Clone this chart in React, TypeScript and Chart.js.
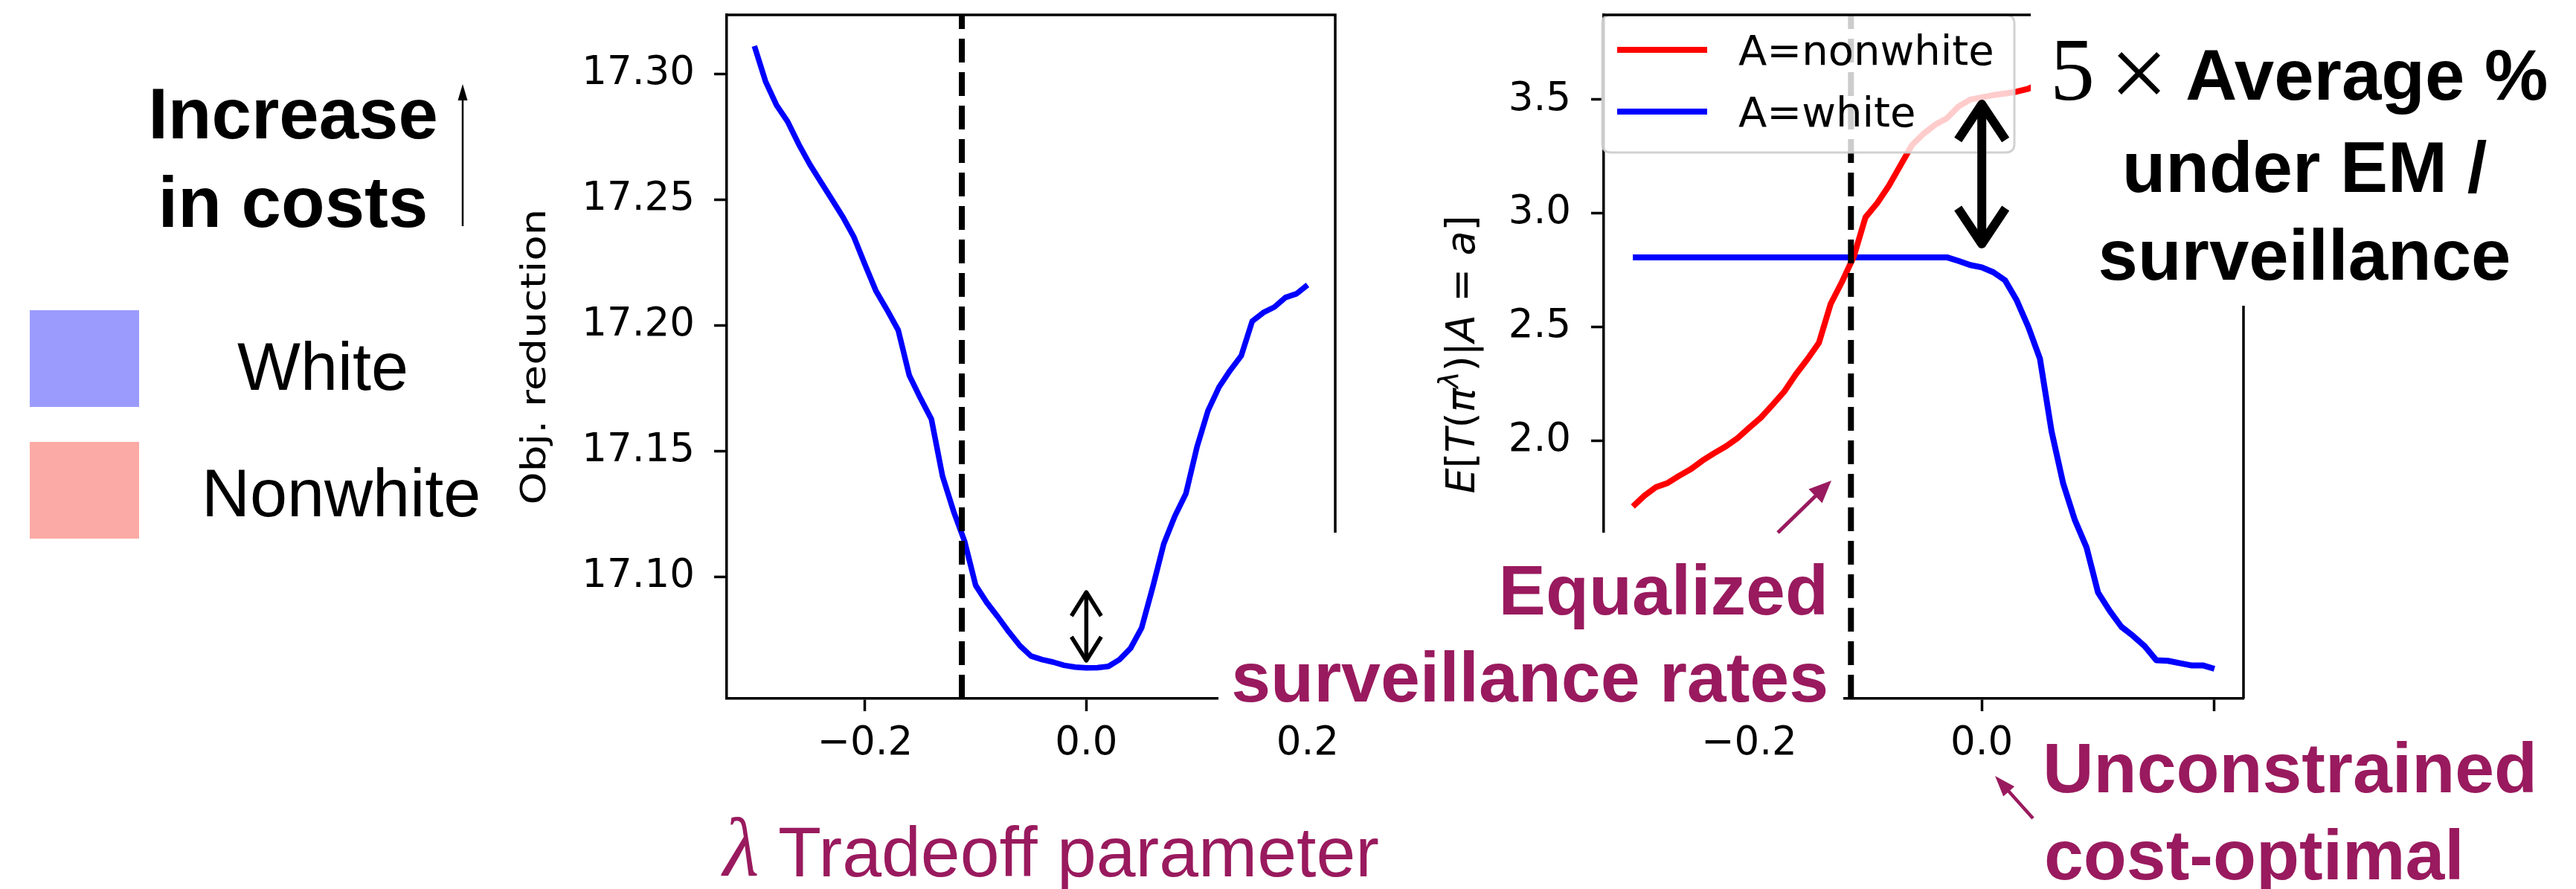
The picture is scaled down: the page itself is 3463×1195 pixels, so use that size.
import React, { useEffect, useRef } from 'react';
import { Chart, registerables } from 'chart.js';

Chart.register(...registerables);

// ---------------- data ----------------
const LAMBDA = [
  -0.30, -0.29, -0.28, -0.27, -0.26, -0.25, -0.24, -0.23, -0.22, -0.21,
  -0.20, -0.19, -0.18, -0.17, -0.16, -0.15, -0.14, -0.13, -0.12, -0.11,
  -0.10, -0.09, -0.08, -0.07, -0.06, -0.05, -0.04, -0.03, -0.02, -0.01,
  0.00, 0.01, 0.02, 0.03, 0.04, 0.05, 0.06, 0.07, 0.08, 0.09,
  0.10, 0.11, 0.12, 0.13, 0.14, 0.15, 0.16, 0.17, 0.18, 0.19, 0.20,
];

const OBJ_REDUCTION = [
  17.311, 17.297, 17.2875, 17.281, 17.272, 17.264, 17.257, 17.250, 17.243, 17.235,
  17.224, 17.2135, 17.206, 17.198, 17.180, 17.171, 17.1626, 17.140, 17.126, 17.114,
  17.0965, 17.0897, 17.084, 17.078, 17.0725, 17.0684, 17.067, 17.066, 17.0647, 17.064,
  17.0637, 17.0638, 17.0643, 17.067, 17.0715, 17.0796, 17.0957, 17.113, 17.124, 17.133,
  17.1515, 17.166, 17.1754, 17.182, 17.1878, 17.2016, 17.205, 17.2072, 17.211, 17.2125, 17.216,
];

const NONWHITE = [
  1.709, 1.757, 1.795, 1.813, 1.845, 1.874, 1.912, 1.944, 1.974, 2.01,
  2.056, 2.10, 2.156, 2.214, 2.29, 2.357, 2.43, 2.60, 2.70, 2.81,
  2.982, 3.044, 3.12, 3.21, 3.30, 3.35, 3.39, 3.418, 3.47, 3.50,
  3.51, 3.52, 3.527, 3.535, 3.548, 3.57, 3.59, 3.60, 3.62, 3.63,
  3.64, 3.65, 3.66, 3.67, 3.68, 3.69, 3.70, 3.71, 3.72, 3.73, 3.737,
];

const WHITE = [
  2.806, 2.806, 2.806, 2.806, 2.806, 2.806, 2.806, 2.806, 2.806, 2.806,
  2.806, 2.806, 2.806, 2.806, 2.806, 2.806, 2.806, 2.806, 2.806, 2.806,
  2.806, 2.806, 2.806, 2.806, 2.806, 2.806, 2.806, 2.806, 2.79, 2.772,
  2.762, 2.74, 2.705, 2.617, 2.50, 2.36, 2.04, 1.81, 1.65, 1.53,
  1.33, 1.25, 1.18, 1.14, 1.095, 1.033, 1.03, 1.02, 1.01, 1.01, 0.995,
];

const SERIES_LABELS = ['A=nonwhite', 'A=white'];
const EQUALIZED_LAMBDA = -0.1125;
const X_TICKS = [-0.2, 0.0, 0.2];
const X_RANGE = [-0.325, 0.225];
const OBJ_Y_TICKS = [17.10, 17.15, 17.20, 17.25, 17.30];
const OBJ_Y_RANGE = [17.0515, 17.3234];
const RATE_Y_TICKS = [1.0, 1.5, 2.0, 2.5, 3.0, 3.5];
const RATE_Y_RANGE = [0.864, 3.873];
const OBJ_GAP = [17.0938, 17.0666];
const RATE_GAP = [3.48, 2.865];
const OBJ_Y_TITLE = 'Obj. reduction';

// ---------------- styling ----------------
const PURPLE = '#991a5e';
const SANS = "'Liberation Sans', Arial, Helvetica, sans-serif";
const SERIF = "'Liberation Serif', 'Times New Roman', serif";
const DJ = "'DejaVu Sans', sans-serif";
const TICK_SIZE = 53;
const SPINE = 3.5;

const fmtX = (v: number) => {
  if (Math.abs(v) < 1e-9) return '0.0';
  return (v < 0 ? '\u2212' : '') + Math.abs(v).toFixed(1);
};

function scalesFor(yRange: number[], yTicks: number[], yWidth: number, yDec: number, yPad: number) {
  return {
    x: {
      type: 'linear',
      bounds: 'data',
      min: X_RANGE[0],
      max: X_RANGE[1],
      afterBuildTicks: (s: any) => { s.ticks = X_TICKS.map((v) => ({ value: v })); },
      afterFit: (s: any) => { s.height = 161; s.paddingLeft = 0; s.paddingRight = 0; },
      grid: { display: true, drawOnChartArea: false, drawTicks: true, tickLength: 17, tickWidth: SPINE, tickColor: '#000' },
      border: { display: true, color: '#000', width: SPINE },
      ticks: {
        color: '#000', font: { family: DJ, size: TICK_SIZE }, padding: 12,
        maxRotation: 0, minRotation: 0, autoSkip: false, includeBounds: false,
        callback: (v: any) => fmtX(Number(v)),
      },
    },
    y: {
      type: 'linear',
      bounds: 'data',
      min: yRange[0],
      max: yRange[1],
      afterBuildTicks: (s: any) => { s.ticks = yTicks.map((v) => ({ value: v })); },
      afterFit: (s: any) => { s.width = yWidth; s.paddingTop = 0; s.paddingBottom = 0; },
      grid: { display: true, drawOnChartArea: false, drawTicks: true, tickLength: 17, tickWidth: SPINE, tickColor: '#000' },
      border: { display: true, color: '#000', width: SPINE },
      ticks: {
        color: '#000', font: { family: DJ, size: TICK_SIZE }, padding: yPad,
        autoSkip: false, includeBounds: false,
        callback: (v: any) => Number(v).toFixed(yDec),
      },
    },
  };
}

const spinesPlugin = {
  id: 'spines',
  afterDraw(chart: any) {
    const { ctx, chartArea } = chart;
    const { left, right, top, bottom } = chartArea;
    ctx.save();
    ctx.strokeStyle = '#000';
    ctx.lineWidth = SPINE;
    ctx.beginPath();
    ctx.moveTo(left - SPINE / 2, top);
    ctx.lineTo(right + SPINE / 2, top);
    ctx.moveTo(right, top);
    ctx.lineTo(right, bottom);
    ctx.stroke();
    ctx.restore();
  },
};

function gapArrowPlugin(xVal: number, ys: number[], lw: number, hw: number, hl: number) {
  return {
    id: 'gapArrow',
    afterDraw(chart: any) {
      const { ctx } = chart;
      const x = chart.scales.x.getPixelForValue(xVal);
      const a = chart.scales.y.getPixelForValue(ys[0]);
      const b = chart.scales.y.getPixelForValue(ys[1]);
      ctx.save();
      ctx.strokeStyle = '#000';
      ctx.lineWidth = lw;
      ctx.lineCap = 'butt';
      ctx.lineJoin = 'round';
      ctx.beginPath();
      ctx.moveTo(x, a + 2);
      ctx.lineTo(x, b - 2);
      ctx.stroke();
      ctx.beginPath();
      ctx.moveTo(x - hw / 2, a + hl);
      ctx.lineTo(x, a);
      ctx.lineTo(x + hw / 2, a + hl);
      ctx.stroke();
      ctx.beginPath();
      ctx.moveTo(x - hw / 2, b - hl);
      ctx.lineTo(x, b);
      ctx.lineTo(x + hw / 2, b - hl);
      ctx.stroke();
      ctx.restore();
    },
  };
}

const objTitlePlugin = {
  id: 'objTitle',
  afterDraw(chart: any) {
    const { ctx, chartArea } = chart;
    ctx.save();
    ctx.font = `46px ${DJ}`;
    ctx.fillStyle = '#000';
    const w = ctx.measureText(OBJ_Y_TITLE).width;
    ctx.translate(chartArea.left - 256, (chartArea.top + chartArea.bottom) / 2);
    ctx.rotate(-Math.PI / 2);
    ctx.scale(398 / w, 1);
    ctx.textAlign = 'center';
    ctx.textBaseline = 'alphabetic';
    ctx.fillText(OBJ_Y_TITLE, 0, 12);
    ctx.restore();
  },
};

const rateTitlePlugin = {
  id: 'rateTitle',
  afterDraw(chart: any) {
    const { ctx, chartArea } = chart;
    const fs = 54;
    const it = `italic ${fs}px ${DJ}`;
    const up = `${fs}px ${DJ}`;
    const sup = `italic ${Math.round(fs * 0.7)}px ${DJ}`;
    const parts: [string, string, number][] = [
      ['E', it, 0], ['[', up, 0], ['T', it, 0], ['(', up, 0], ['\u03c0', it, 0],
      ['\u03bb', sup, -0.42 * fs], [')', up, 0], ['|', up, 0], ['A', it, 0],
      [' = ', up, 0], ['a', it, 0], [']', up, 0],
    ];
    ctx.save();
    let total = 0;
    const widths = parts.map(([t, f]) => { ctx.font = f; const w = ctx.measureText(t).width; total += w; return w; });
    ctx.translate(chartArea.left - 190, (chartArea.top + chartArea.bottom) / 2 - 3);
    ctx.rotate(-Math.PI / 2);
    ctx.fillStyle = '#000';
    ctx.textBaseline = 'alphabetic';
    ctx.textAlign = 'left';
    let x = -total / 2;
    parts.forEach(([t, f, dy], i) => {
      ctx.font = f;
      ctx.fillText(t, x, 0.3 * fs + dy);
      x += widths[i];
    });
    ctx.restore();
  },
};

const boxLegendPlugin = {
  id: 'boxLegend',
  afterDatasetsDraw(chart: any) {
    const { ctx, chartArea } = chart;
    const x0 = chartArea.left - 2;
    const y0 = chartArea.top;
    const w = 554;
    const h = 185;
    const r = 12;
    ctx.save();
    ctx.beginPath();
    ctx.moveTo(x0 + r, y0);
    ctx.lineTo(x0 + w - r, y0);
    ctx.quadraticCurveTo(x0 + w, y0, x0 + w, y0 + r);
    ctx.lineTo(x0 + w, y0 + h - r);
    ctx.quadraticCurveTo(x0 + w, y0 + h, x0 + w - r, y0 + h);
    ctx.lineTo(x0 + r, y0 + h);
    ctx.quadraticCurveTo(x0, y0 + h, x0, y0 + h - r);
    ctx.lineTo(x0, y0 + r);
    ctx.quadraticCurveTo(x0, y0, x0 + r, y0);
    ctx.closePath();
    ctx.fillStyle = 'rgba(255,255,255,0.8)';
    ctx.fill();
    ctx.strokeStyle = 'rgba(204,204,204,0.9)';
    ctx.lineWidth = 3;
    ctx.stroke();
    const items = chart.data.datasets.filter((d: any) => SERIES_LABELS.includes(d.label));
    items.forEach((d: any, i: number) => {
      const y = y0 + 47 + i * 83;
      ctx.strokeStyle = d.borderColor;
      ctx.lineWidth = 8;
      ctx.lineCap = 'butt';
      ctx.beginPath();
      ctx.moveTo(x0 + 20, y);
      ctx.lineTo(x0 + 141, y);
      ctx.stroke();
      ctx.fillStyle = '#000';
      ctx.font = `56px ${DJ}`;
      ctx.textBaseline = 'alphabetic';
      ctx.textAlign = 'left';
      ctx.fillText(d.label, x0 + 183, y + 20);
    });
    ctx.restore();
  },
};

function objConfig(): any {
  return {
    type: 'line',
    data: {
      datasets: [
        {
          label: 'equalized',
          data: [{ x: EQUALIZED_LAMBDA, y: OBJ_Y_RANGE[0] }, { x: EQUALIZED_LAMBDA, y: OBJ_Y_RANGE[1] }],
          borderColor: '#000', borderWidth: 8, borderDash: [32, 13], pointRadius: 0, order: 0,
        },
        {
          label: OBJ_Y_TITLE,
          data: LAMBDA.map((x, i) => ({ x, y: OBJ_REDUCTION[i] })),
          borderColor: '#0000ff', borderWidth: 7.5, pointRadius: 0, tension: 0,
          borderJoinStyle: 'round', borderCapStyle: 'butt', order: 1,
        },
      ],
    },
    options: {
      responsive: false,
      animation: false,
      devicePixelRatio: 1,
      layout: { padding: { top: 20, right: 55, left: 0, bottom: 0 } },
      plugins: { legend: { display: false }, tooltip: { enabled: false }, title: { display: false } },
      scales: scalesFor(OBJ_Y_RANGE, OBJ_Y_TICKS, 377, 2, 26),
    },
    plugins: [spinesPlugin, objTitlePlugin, gapArrowPlugin(0, OBJ_GAP, 5.5, 40, 32)],
  };
}

function rateConfig(): any {
  return {
    type: 'line',
    data: {
      datasets: [
        {
          label: 'equalized',
          data: [{ x: EQUALIZED_LAMBDA, y: RATE_Y_RANGE[0] }, { x: EQUALIZED_LAMBDA, y: RATE_Y_RANGE[1] }],
          borderColor: '#000', borderWidth: 8, borderDash: [32, 13], pointRadius: 0, order: 0,
        },
        {
          label: SERIES_LABELS[0],
          data: LAMBDA.map((x, i) => ({ x, y: NONWHITE[i] })),
          borderColor: '#ff0000', borderWidth: 8, pointRadius: 0, tension: 0,
          borderJoinStyle: 'round', order: 1,
        },
        {
          label: SERIES_LABELS[1],
          data: LAMBDA.map((x, i) => ({ x, y: WHITE[i] })),
          borderColor: '#0000ff', borderWidth: 8, pointRadius: 0, tension: 0,
          borderJoinStyle: 'round', order: 2,
        },
      ],
    },
    options: {
      responsive: false,
      animation: false,
      devicePixelRatio: 1,
      layout: { padding: { top: 20, right: 134, left: 0, bottom: 0 } },
      plugins: { legend: { display: false }, tooltip: { enabled: false }, title: { display: false } },
      scales: scalesFor(RATE_Y_RANGE, RATE_Y_TICKS, 256, 1, 27),
    },
    plugins: [boxLegendPlugin, spinesPlugin, rateTitlePlugin, gapArrowPlugin(0, RATE_GAP, 12, 64, 48)],
  };
}

// ---------------- overlay helpers ----------------
function Txt(props: any) {
  const { x, y, size, align = 'left', weight = 400, family = SANS, color = '#000', italic = false, children, extra } = props;
  const tx = align === 'center' ? '-50%' : align === 'right' ? '-100%' : '0';
  return (
    <div
      style={{
        position: 'absolute', left: x, top: y - 0.845 * size, fontSize: size, lineHeight: `${size}px`,
        fontFamily: family, fontWeight: weight, fontStyle: italic ? 'italic' : 'normal', color,
        whiteSpace: 'nowrap', transform: `translateX(${tx})`, ...(extra || {}),
      }}
    >
      {children}
    </div>
  );
}

function Arrow(props: any) {
  const { x1, y1, x2, y2, color, width, headLen, headWid } = props;
  const dx = x2 - x1;
  const dy = y2 - y1;
  const L = Math.hypot(dx, dy);
  const ux = dx / L;
  const uy = dy / L;
  const bx = x2 - ux * headLen;
  const by = y2 - uy * headLen;
  const px = -uy;
  const py = ux;
  return (
    <g>
      <line x1={x1} y1={y1} x2={bx + ux * 2} y2={by + uy * 2} stroke={color} strokeWidth={width} />
      <polygon
        points={`${x2},${y2} ${bx + (px * headWid) / 2},${by + (py * headWid) / 2} ${bx - (px * headWid) / 2},${by - (py * headWid) / 2}`}
        fill={color}
      />
    </g>
  );
}

export default function App() {
  const c1 = useRef<HTMLCanvasElement>(null);
  const c2 = useRef<HTMLCanvasElement>(null);

  useEffect(() => {
    const ch1 = new Chart(c1.current as HTMLCanvasElement, objConfig());
    const ch2 = new Chart(c2.current as HTMLCanvasElement, rateConfig());
    return () => {
      ch1.destroy();
      ch2.destroy();
    };
  }, []);

  return (
    <div style={{ position: 'fixed', left: 0, top: 0, width: 3463, height: 1195, background: '#fff', overflow: 'hidden' }}>
      <canvas ref={c1} width={1250} height={1100} style={{ position: 'absolute', left: 600, top: 0, width: 1250, height: 1100 }} />
      <canvas ref={c2} width={1250} height={1100} style={{ position: 'absolute', left: 1900, top: 0, width: 1250, height: 1100 }} />

      {/* left legend-like key */}
      <Txt x={394} y={186} size={96} weight={700} align="center">Increase</Txt>
      <Txt x={394} y={305} size={96} weight={700} align="center">in costs</Txt>
      <div style={{ position: 'absolute', left: 40, top: 417, width: 147, height: 130, background: '#9b9bfd' }} />
      <div style={{ position: 'absolute', left: 40, top: 594, width: 147, height: 130, background: '#fcaaa5' }} />
      <Txt x={319} y={524} size={90}>White</Txt>
      <Txt x={271} y={694} size={90}>Nonwhite</Txt>

      {/* x label */}
      <Txt x={972} y={1178} size={112} family={SERIF} italic color={PURPLE}>λ</Txt>
      <Txt x={1046} y={1178} size={95} color={PURPLE}>Tradeoff parameter</Txt>

      {/* Equalized surveillance rates box */}
      <div style={{ position: 'absolute', left: 1638, top: 716, width: 840, height: 254, background: '#fff' }} />
      <Txt x={2458} y={826} size={95} weight={700} align="right" color={PURPLE}>Equalized</Txt>
      <Txt x={2458} y={943} size={95} weight={700} align="right" color={PURPLE}>surveillance rates</Txt>

      {/* 5 x Average box */}
      <div style={{ position: 'absolute', left: 2730, top: 0, width: 733, height: 411, background: '#fff' }} />
      <Txt x={2756} y={135} size={120} family={SERIF}>5</Txt>
      <Txt x={2836} y={146} size={140} family={SERIF}>×</Txt>
      <Txt x={2938} y={134} size={96} weight={700}>Average %</Txt>
      <Txt x={3098} y={258} size={96} weight={700} align="center">under EM /</Txt>
      <Txt x={3098} y={376} size={96} weight={700} align="center">surveillance</Txt>

      {/* Unconstrained box */}
      <div style={{ position: 'absolute', left: 2740, top: 965, width: 723, height: 230, background: '#fff' }} />
      <Txt x={2746} y={1065} size={95} weight={700} color={PURPLE}>Unconstrained</Txt>
      <Txt x={2748} y={1182} size={95} weight={700} color={PURPLE}>cost-optimal</Txt>

      <svg width={3463} height={1195} style={{ position: 'absolute', left: 0, top: 0, pointerEvents: 'none' }}>
        <Arrow x1={622} y1={304} x2={622} y2={113} color="#000" width={2.5} headLen={22} headWid={13} />
        <Arrow x1={2390} y1={716} x2={2462} y2={646} color={PURPLE} width={5} headLen={30} headWid={26} />
        <Arrow x1={2733} y1={1100} x2={2682} y2={1043} color={PURPLE} width={4.5} headLen={28} headWid={20} />
      </svg>
    </div>
  );
}
